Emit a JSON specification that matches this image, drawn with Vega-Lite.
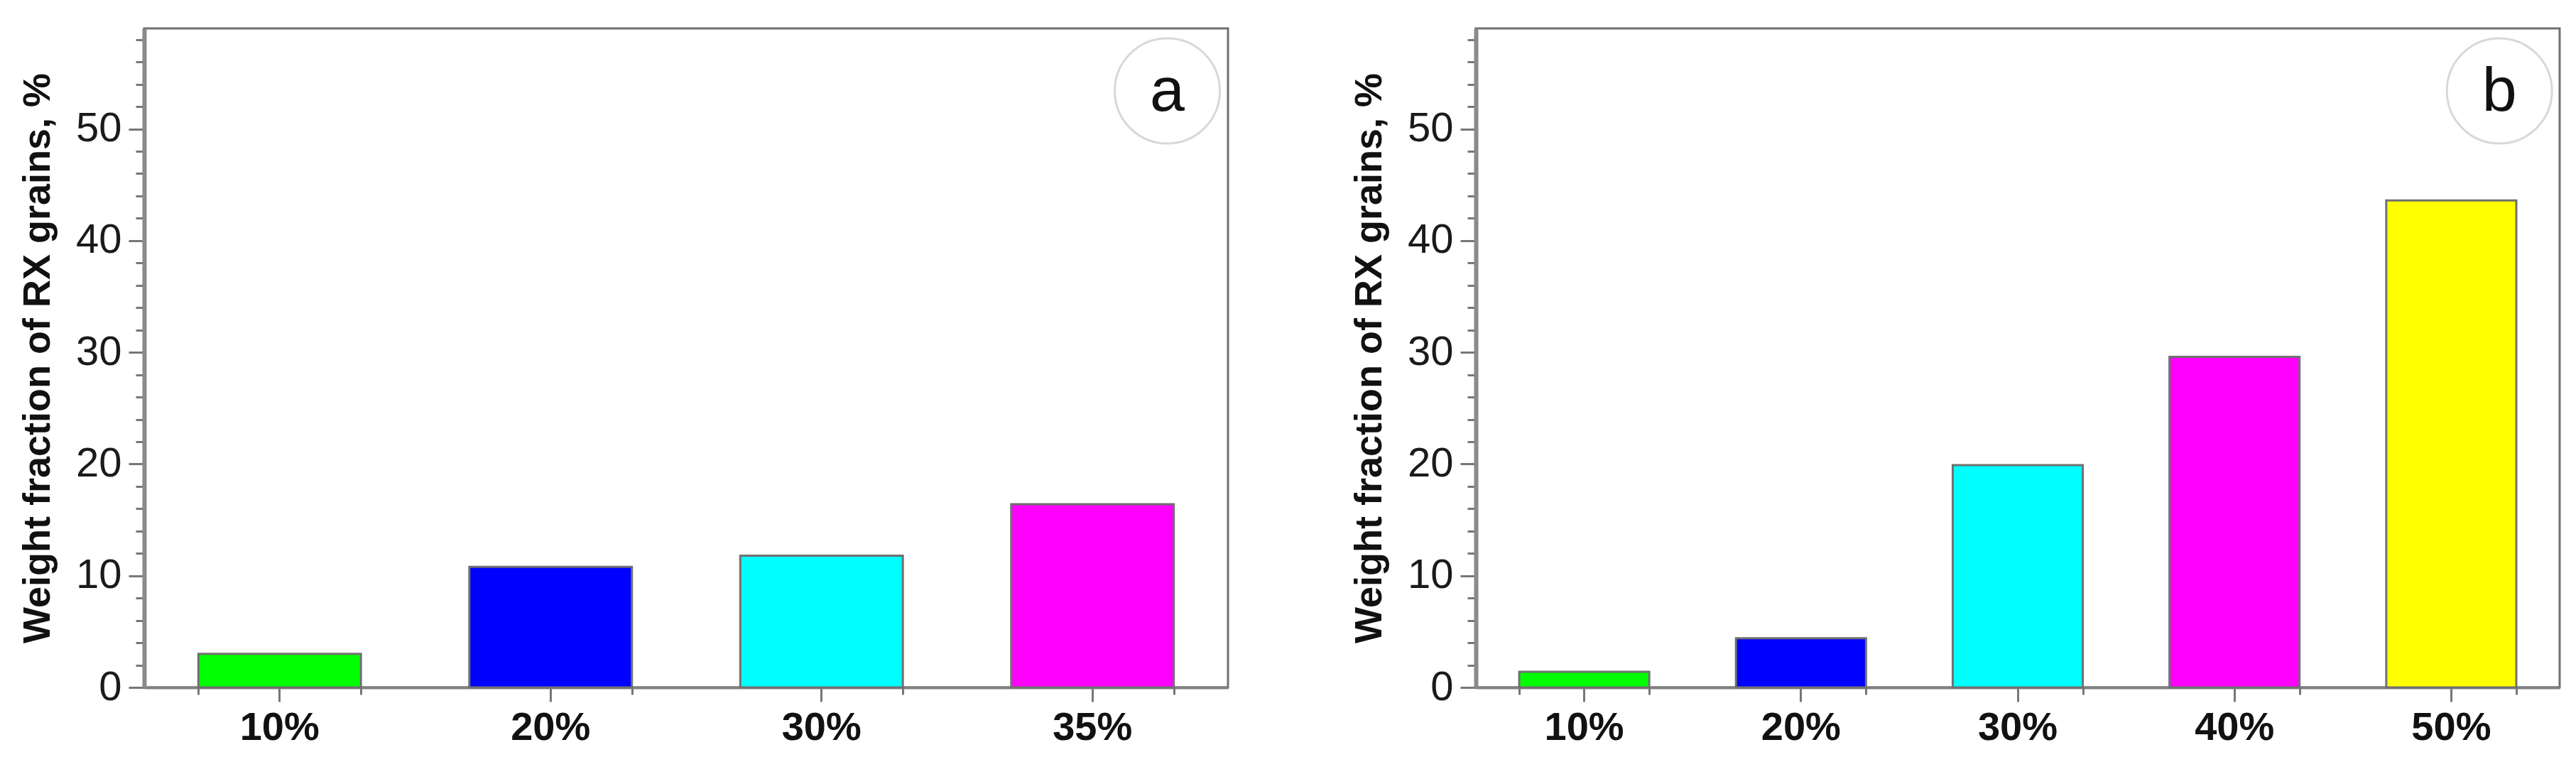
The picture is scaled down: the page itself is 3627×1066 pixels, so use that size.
{
  "$schema": "https://vega.github.io/schema/vega-lite/v6.json",
  "background": "white",
  "padding": {"left": 24, "top": 38, "right": 0, "bottom": 0},
  "spacing": 168,
  "resolve": {"scale": {"color": "independent", "y": "independent"}},
  "config": {
    "font": "Liberation Sans",
    "view": {"stroke": "#707070", "strokeWidth": 3},
    "axisY": {
      "values": [0, 5, 10, 15, 20, 25, 30, 35, 40, 45, 50, 55],
      "labelExpr": "datum.value % 10 === 0 ? datum.label : ''",
      "tickSize": {"condition": {"test": "datum.value % 10 === 0", "value": 22}, "value": 12},
      "tickColor": "#777777",
      "tickWidth": 3,
      "domainColor": "#8a8a8a",
      "domainWidth": 6,
      "labelFont": "Liberation Sans",
      "labelFontSize": 58,
      "labelColor": "#1a1a1a",
      "labelPadding": 10,
      "grid": false,
      "titleFont": "Liberation Sans",
      "titleFontSize": 54,
      "titleFontWeight": "bold",
      "titleColor": "#111111",
      "titlePadding": 26
    },
    "axisX": {
      "labelAngle": 0,
      "labelFont": "Liberation Sans",
      "labelFontSize": 56,
      "labelFontWeight": "bold",
      "labelColor": "#111111",
      "labelPadding": 9,
      "tickColor": "#777777",
      "tickWidth": 3,
      "tickSize": 20,
      "domainColor": "#808080",
      "domainWidth": 4,
      "grid": false,
      "title": null
    }
  },
  "hconcat": [
    {
      "width": 1526,
      "height": 928,
      "data": {"values": [
        {"deformation": "10%", "fraction": 3.0},
        {"deformation": "20%", "fraction": 10.8},
        {"deformation": "30%", "fraction": 11.8},
        {"deformation": "35%", "fraction": 16.4}
      ]},
      "resolve": {"axis": {"x": "independent"}},
      "layer": [
        {
          "mark": {"type": "bar", "stroke": "#707070", "strokeWidth": 3},
          "encoding": {
            "x": {"field": "deformation", "type": "ordinal", "scale": {"paddingInner": 0.4, "paddingOuter": 0.2}, "axis": {"orient": "bottom"}},
            "y": {"field": "fraction", "type": "quantitative", "scale": {"domain": [0, 59], "nice": false}, "axis": {"title": "Weight fraction of RX grains, %"}},
            "color": {"field": "deformation", "type": "nominal", "scale": {"domain": ["10%", "20%", "30%", "35%"], "range": ["#00ff00", "#0000ff", "#00ffff", "#ff00ff"]}, "legend": null}
          }
        },
        {
          "data": {"values": [{"panel": "a", "deformation": "35%", "y": 53.4}]},
          "mark": {"type": "point", "shape": "circle", "size": 21900, "filled": true, "fill": "white", "stroke": "#d8d8d8", "strokeWidth": 3, "opacity": 1},
          "encoding": {
            "x": {"field": "deformation", "type": "ordinal", "bandPosition": 0.96, "axis": {"orient": "bottom", "tickBand": "extent", "labels": false, "domain": false, "tickSize": 10}},
            "y": {"field": "y", "type": "quantitative"}
          }
        },
        {
          "data": {"values": [{"panel": "a", "deformation": "35%", "y": 53.4}]},
          "mark": {"type": "text", "font": "Liberation Sans", "fontSize": 88, "baseline": "middle", "align": "center", "color": "#111111", "dy": 2},
          "encoding": {
            "x": {"field": "deformation", "type": "ordinal", "bandPosition": 0.96, "axis": null},
            "y": {"field": "y", "type": "quantitative"},
            "text": {"field": "panel"}
          }
        }
      ]
    },
    {
      "width": 1526,
      "height": 928,
      "data": {"values": [
        {"deformation": "10%", "fraction": 1.4},
        {"deformation": "20%", "fraction": 4.4},
        {"deformation": "30%", "fraction": 19.9},
        {"deformation": "40%", "fraction": 29.6},
        {"deformation": "50%", "fraction": 43.6}
      ]},
      "resolve": {"axis": {"x": "independent"}},
      "layer": [
        {
          "mark": {"type": "bar", "stroke": "#707070", "strokeWidth": 3},
          "encoding": {
            "x": {"field": "deformation", "type": "ordinal", "scale": {"paddingInner": 0.4, "paddingOuter": 0.2}, "axis": {"orient": "bottom"}},
            "y": {"field": "fraction", "type": "quantitative", "scale": {"domain": [0, 59], "nice": false}, "axis": {"title": "Weight fraction of RX grains, %"}},
            "color": {"field": "deformation", "type": "nominal", "scale": {"domain": ["10%", "20%", "30%", "40%", "50%"], "range": ["#00ff00", "#0000ff", "#00ffff", "#ff00ff", "#ffff00"]}, "legend": null}
          }
        },
        {
          "data": {"values": [{"panel": "b", "deformation": "50%", "y": 53.4}]},
          "mark": {"type": "point", "shape": "circle", "size": 21900, "filled": true, "fill": "white", "stroke": "#d8d8d8", "strokeWidth": 3, "opacity": 1},
          "encoding": {
            "x": {"field": "deformation", "type": "ordinal", "bandPosition": 0.87, "axis": {"orient": "bottom", "tickBand": "extent", "labels": false, "domain": false, "tickSize": 10}},
            "y": {"field": "y", "type": "quantitative"}
          }
        },
        {
          "data": {"values": [{"panel": "b", "deformation": "50%", "y": 53.4}]},
          "mark": {"type": "text", "font": "Liberation Sans", "fontSize": 88, "baseline": "middle", "align": "center", "color": "#111111", "dy": 2},
          "encoding": {
            "x": {"field": "deformation", "type": "ordinal", "bandPosition": 0.87, "axis": null},
            "y": {"field": "y", "type": "quantitative"},
            "text": {"field": "panel"}
          }
        }
      ]
    }
  ]
}
